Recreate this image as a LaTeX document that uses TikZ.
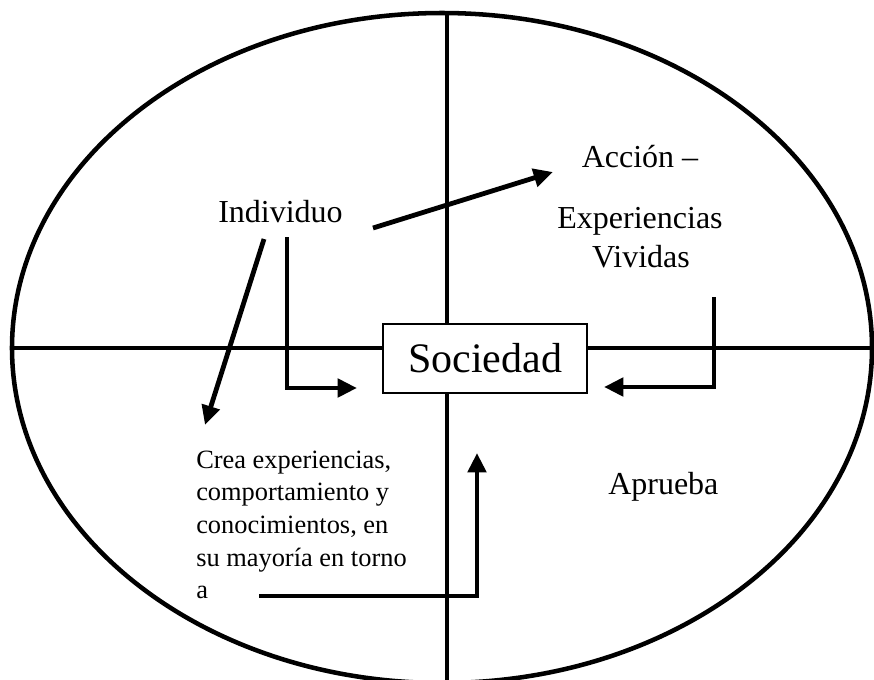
\documentclass[tikz,border=0pt]{standalone}
\usepackage{fontspec}
\setmainfont{Liberation Serif}
\usetikzlibrary{arrows.meta}
\begin{document}
\begin{tikzpicture}[x=0.75pt,y=-0.75pt,
  axis/.style={line width=3.4pt},
  oval/.style={line width=3.4pt},
  conn/.style={line width=3.6pt,-{Triangle[length=14.5pt,width=13.5pt]}},
  lbl/.style={inner sep=0pt,anchor=base west,font=\fontsize{24}{29}\selectfont},
  small/.style={inner sep=0pt,font=\fontsize{19.8}{24.5}\selectfont,align=left,anchor=north west},
  boxnode/.style={draw,line width=1.1pt,fill=white,minimum width=204*0.75pt,minimum height=69*0.75pt,inner sep=0pt,font=\fontsize{31.5}{36}\selectfont}]
\useasboundingbox (0,0) rectangle (874,679);
\clip (0,0) rectangle (874,679);
\fill[white] (0,0) rectangle (874,679);
% ellipse and axes
\draw[oval] (442,348) ellipse [x radius=430, y radius=335];
\coordinate (hl) at (12,348);
\coordinate (hr) at (880,348);
\coordinate (vt) at (447,13);
\coordinate (vb) at (447,690);
\draw[axis] (hl) -- (hr);
\draw[axis] (vt) -- (vb);
% central box
\node[boxnode] (soc) at (485,358.5) {Sociedad};
% texts
\node[lbl] (ind) at (218,222) {Individuo};
\node[lbl,anchor=base] (acc) at (640,167) {Acción –};
\node[lbl,anchor=base] (exp1) at (640,228) {Experiencias};
\node[lbl,anchor=base] (exp2) at (641,267) {Vividas};
\node[lbl] (apr) at (608,494) {Aprueba};
\node[small] (crea) at (196,450.5) {Crea experiencias,\\comportamiento y\\conocimientos, en\\su mayoría en torno\\a};
% connector coordinates
\coordinate (a1s) at (373,228);
\coordinate (a1e) at (553,172);
\coordinate (a2s) at (264,239);
\coordinate (a2e) at (205,425);
\coordinate (a3s) at (287,237);
\coordinate (a3c) at (287,388);
\coordinate (a3e) at (357,388);
\coordinate (a4s) at (714,297);
\coordinate (a4c) at (714,387);
\coordinate (a4e) at (604,387);
\coordinate (a5s) at (259,596);
\coordinate (a5c) at (477,596);
\coordinate (a5e) at (477,453);
% connectors
\draw[conn] (a1s) -- (a1e);
\draw[conn] (a2s) -- (a2e);
\draw[conn] (a3s) -- (a3c) -- (a3e);
\draw[conn] (a4s) -- (a4c) -- (a4e);
\draw[conn] (a5s) -- (a5c) -- (a5e);
\end{tikzpicture}
\end{document}
